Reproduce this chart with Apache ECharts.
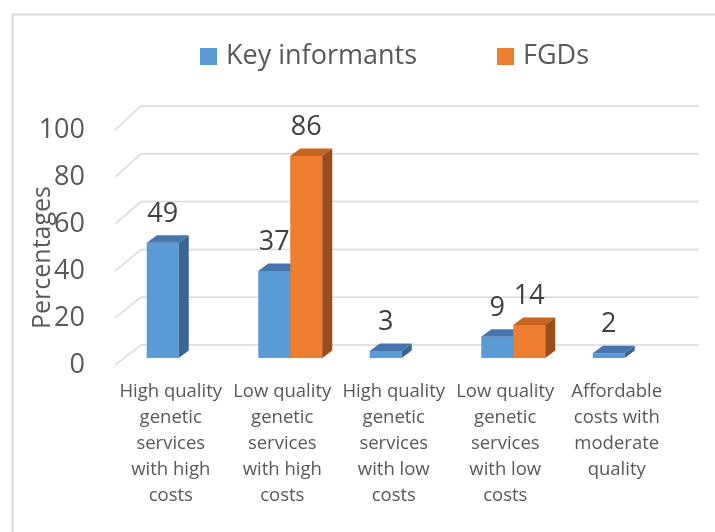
<!DOCTYPE html>
<html>
<head>
<meta charset="utf-8">
<script src="https://cdn.jsdelivr.net/npm/echarts@6/dist/echarts.min.js"></script>
<style>
html,body{margin:0;padding:0;background:#fff;}
#chart{width:715px;height:532px;}
</style>
</head>
<body>
<div id="chart"></div>
<script>
var categories = [
  'High quality\ngenetic\nservices\nwith high\ncosts',
  'Low quality\ngenetic\nservices\nwith high\ncosts',
  'High quality\ngenetic\nservices\nwith low\ncosts',
  'Low quality\ngenetic\nservices\nwith low\ncosts',
  'Affordable\ncosts with\nmoderate\nquality'
];
var keyInformants = [49, 37, 3, 9, 2];
var fgds = [null, 86, null, 14, null];
var yTicks = [0, 20, 40, 60, 80, 100];

var FONT = '"Open Sans", "Noto Sans", sans-serif';
var BAR_DX = 8, BAR_DY = -7;      // bar plane offset from floor front
var DEPTH_X = 10, DEPTH_Y = -7.5;  // bar depth
var WALL_DX = 26, WALL_DY = -20;   // back wall offset

function gridRender(params, api) {
  var v = api.value(1);
  var p = api.coord([0, v]);
  var p0 = api.coord([0, 0]);
  var band = api.size([1, 0])[0];
  var n = categories.length;
  var x0 = p[0] - band / 2;
  var x1 = x0 + band * n;
  var yb = p[1] + WALL_DY - (p0[1] - p[1]) * 0.017;
  return {
    type: 'polyline',
    shape: { points: [[x0, p[1]], [x0 + WALL_DX, yb], [x1 + WALL_DX, yb]] },
    style: { stroke: '#d9d9d9', lineWidth: 1.5, fill: 'none' }
  };
}

function makeBarRender(idx, front, top, side) {
  return function (params, api) {
    var v = api.value(1);
    if (v == null || isNaN(v)) return null;
    var ci = api.value(0);
    var c = api.coord([ci, v]);
    var b = api.coord([ci, 0]);
    var band = api.size([1, 0])[0];
    var bw = band * 0.287;
    var x = c[0] + BAR_DX + (idx === 0 ? -bw : 0);
    var yt = c[1] + BAR_DY;
    var yb = b[1] + BAR_DY;
    return {
      type: 'group',
      children: [
        { type: 'polygon', shape: { points: [[x, yt], [x + bw, yt], [x + bw, yb], [x, yb]] }, style: { fill: front } },
        { type: 'polygon', shape: { points: [[x, yt], [x + bw, yt], [x + bw + DEPTH_X, yt + DEPTH_Y], [x + DEPTH_X, yt + DEPTH_Y]] }, style: { fill: top } },
        { type: 'polygon', shape: { points: [[x + bw, yt], [x + bw + DEPTH_X, yt + DEPTH_Y], [x + bw + DEPTH_X, yb + DEPTH_Y], [x + bw, yb]] }, style: { fill: side } },
        { type: 'text', x: x + bw / 2, y: yt - 29, style: { text: String(v), fill: '#404040', font: '27px ' + FONT, align: 'center', verticalAlign: 'middle' } }
      ]
    };
  };
}

var chart = echarts.init(document.getElementById('chart'), null, { renderer: 'canvas' });
chart.setOption({
  backgroundColor: '#ffffff',
  animation: false,
  graphic: [
    { type: 'polyline', shape: { points: [[12.5, 540], [12.5, 14.5], [720, 14.5]] }, style: { stroke: '#d9d9d9', lineWidth: 2, fill: 'none' }, silent: true }
  ],
  legend: {
    data: [
      { name: 'Key informants', icon: 'rect', itemStyle: { color: '#5B9BD5' } },
      { name: 'FGDs', icon: 'rect', itemStyle: { color: '#ED7D31' } }
    ],
    left: 195,
    top: 38,
    itemWidth: 17,
    itemHeight: 17,
    itemGap: 80,
    textStyle: { fontFamily: FONT, fontSize: 27, color: '#595959', padding: [0, 0, 0, 4] }
  },
  grid: { left: 115, top: 130, width: 557.5, height: 235 },
  xAxis: {
    type: 'category',
    data: categories,
    axisLine: { show: false },
    axisTick: { show: false },
    splitLine: { show: false },
    axisLabel: { interval: 0, margin: 14, fontFamily: FONT, fontSize: 18.5, lineHeight: 26, color: '#595959', align: 'center' }
  },
  yAxis: {
    type: 'value',
    min: 0, max: 100, interval: 20,
    axisLine: { show: false },
    axisTick: { show: false },
    splitLine: { show: false },
    axisLabel: { margin: 30, fontFamily: FONT, fontSize: 27, color: '#595959' },
    name: 'Percentages',
    nameLocation: 'middle',
    nameRotate: 90,
    nameGap: 60,
    nameMoveOverlap: false,
    nameTextStyle: { fontFamily: FONT, fontSize: 25, color: '#595959', padding: [0, 20, 0, 0] }
  },
  series: [
    {
      type: 'custom', name: 'walls', silent: true, z: 1,
      renderItem: gridRender,
      data: yTicks.map(function (v) { return [0, v]; })
    },
    {
      type: 'custom', name: 'Key informants', z: 2,
      renderItem: makeBarRender(0, '#5B9BD5', '#4676AC', '#3A6591'),
      data: keyInformants.map(function (v, i) { return [i, v]; })
    },
    {
      type: 'custom', name: 'FGDs', z: 3,
      renderItem: makeBarRender(1, '#ED7D31', '#C7641F', '#9C4C1A'),
      data: fgds.map(function (v, i) { return [i, v]; })
    }
  ]
});
</script>
</body>
</html>
